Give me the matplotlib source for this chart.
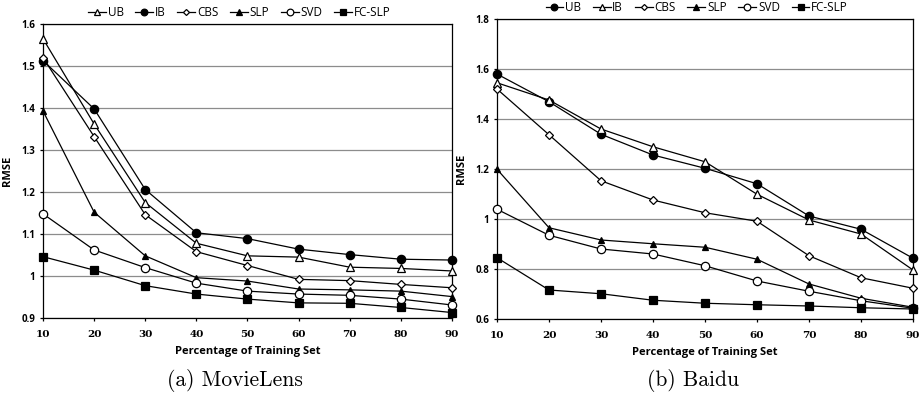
import numpy as np
import matplotlib
matplotlib.use('Agg')
import matplotlib.pyplot as plt

# 横轴：训练集比例
train_pct = [10, 20, 30, 40, 50, 60, 70, 80, 90]

# (a) MovieLens
ml_ub = [1.565, 1.362, 1.175, 1.078, 1.048, 1.045, 1.021, 1.018, 1.012]
ml_ib = [1.513, 1.398, 1.206, 1.103, 1.089, 1.064, 1.051, 1.040, 1.038]
ml_cbs = [1.520, 1.332, 1.146, 1.058, 1.025, 0.992, 0.989, 0.980, 0.972]
ml_slp = [1.393, 1.152, 1.048, 0.996, 0.988, 0.969, 0.967, 0.964, 0.951]
ml_svd = [1.148, 1.062, 1.020, 0.983, 0.964, 0.957, 0.954, 0.945, 0.931]
ml_fcslp = [1.046, 1.014, 0.977, 0.957, 0.945, 0.936, 0.935, 0.925, 0.913]

# (b) Baidu
bd_ub = [1.580, 1.469, 1.339, 1.256, 1.203, 1.141, 1.012, 0.959, 0.843]
bd_ib = [1.545, 1.476, 1.360, 1.289, 1.229, 1.099, 0.996, 0.940, 0.796]
bd_cbs = [1.520, 1.337, 1.153, 1.076, 1.025, 0.991, 0.853, 0.765, 0.723]
bd_slp = [1.199, 0.965, 0.916, 0.901, 0.887, 0.839, 0.740, 0.683, 0.647]
bd_svd = [1.039, 0.935, 0.880, 0.860, 0.813, 0.752, 0.711, 0.673, 0.643]
bd_fcslp = [0.845, 0.716, 0.701, 0.675, 0.663, 0.657, 0.652, 0.645, 0.640]

ml_yticks = [0.9, 1.0, 1.1, 1.2, 1.3, 1.4, 1.5, 1.6]
ml_yticklabels = ['0.9', '1', '1.1', '1.2', '1.3', '1.4', '1.5', '1.6']
bd_yticks = [0.6, 0.8, 1.0, 1.2, 1.4, 1.6, 1.8]
bd_yticklabels = ['0.6', '0.8', '1', '1.2', '1.4', '1.6', '1.8']

# 各方法的标记样式
STYLES = {
    'open_tri': dict(marker='^', mfc='white', ms=5.5),
    'dot': dict(marker='o', mfc='black', ms=6),
    'diamond': dict(marker='D', mfc='white', ms=3.8),
    'tri': dict(marker='^', mfc='black', ms=5),
    'open_dot': dict(marker='o', mfc='white', ms=6),
    'square': dict(marker='s', mfc='black', ms=5.5),
}

SANS = 'Open Sans'


def draw_panel(fig, rect, series, yticks, yticklabels, caption, cap_x, leg_x):
    ax = fig.add_axes(rect)
    for label, values, style in series:
        st = STYLES[style]
        ax.plot(train_pct, values, color='black', lw=0.9, marker=st['marker'],
                ms=st['ms'], mfc=st['mfc'], mec='black', mew=0.9,
                label=label, clip_on=False, zorder=3)

    ax.set_xlim(10, 90)
    ax.set_ylim(yticks[0], yticks[-1])
    ax.set_xticks(train_pct)
    ax.set_xticklabels([str(v) for v in train_pct], fontfamily='DejaVu Serif',
                       fontweight='bold', fontsize=7.5)
    ax.set_yticks(yticks)
    ax.set_yticklabels(yticklabels, fontfamily=SANS, fontweight='bold', fontsize=7)
    ax.tick_params(axis='both', length=2.5, width=0.9, direction='out')
    ax.tick_params(axis='x', pad=6)
    ax.tick_params(axis='y', pad=3)
    ax.grid(axis='y', color='#8c8c8c', lw=0.9)
    ax.set_axisbelow(True)
    for sp in ax.spines.values():
        sp.set_color('black')
        sp.set_linewidth(0.9)

    ax.set_ylabel('RMSE', fontfamily=SANS, fontweight='bold', fontsize=8, labelpad=6)
    ax.set_xlabel('Percentage of Training Set', fontfamily=SANS, fontweight='bold',
                  fontsize=8, labelpad=5)

    ax.legend(loc='lower center', bbox_to_anchor=(leg_x, 1.0), ncol=6, frameon=False,
              prop={'family': SANS, 'size': 8.5}, handlelength=1.5, handletextpad=0.15,
              columnspacing=1.0, borderaxespad=0.05, markerscale=0.8)

    fig.text(cap_x, 0.05, caption, ha='center', va='center', fontfamily='cmr10',
             fontsize=15.5)
    return ax


fig = plt.figure(figsize=(9.23, 4.01), dpi=100)

draw_panel(fig, [0.0466, 0.207, 0.443, 0.733],
           [('UB', ml_ub, 'open_tri'), ('IB', ml_ib, 'dot'), ('CBS', ml_cbs, 'diamond'),
            ('SLP', ml_slp, 'tri'), ('SVD', ml_svd, 'open_dot'), ('FC-SLP', ml_fcslp, 'square')],
           ml_yticks, ml_yticklabels, '(a) MovieLens', 0.254, 0.48)

draw_panel(fig, [0.5385, 0.2045, 0.4507, 0.748],
           [('UB', bd_ub, 'dot'), ('IB', bd_ib, 'open_tri'), ('CBS', bd_cbs, 'diamond'),
            ('SLP', bd_slp, 'tri'), ('SVD', bd_svd, 'open_dot'), ('FC-SLP', bd_fcslp, 'square')],
           bd_yticks, bd_yticklabels, '(b) Baidu', 0.751, 0.48)

fig.savefig('out.png', dpi=100)
plt.close(fig)
